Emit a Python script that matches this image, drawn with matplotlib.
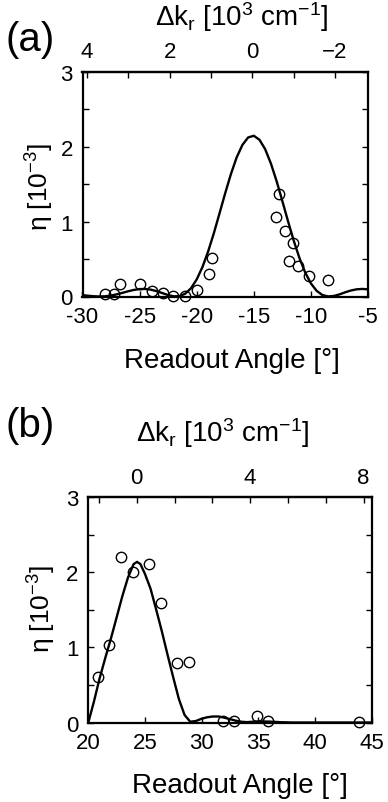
import numpy as np
import matplotlib
matplotlib.use("Agg")
import matplotlib.pyplot as plt
from matplotlib.ticker import MultipleLocator

plt.rcParams["font.family"] = ["Liberation Sans", "DejaVu Sans"]
plt.rcParams["mathtext.fontset"] = "custom"
plt.rcParams["mathtext.rm"] = "Liberation Sans"
plt.rcParams["mathtext.it"] = "Liberation Sans:italic"
plt.rcParams["mathtext.default"] = "regular"

# panel (a): measured points
a_meas_angle = [-28.05, -27.26, -26.74, -24.93, -23.91, -22.95, -22.07, -21.0, -19.98,
                -18.96, -18.67, -12.75, -13.04, -12.26, -11.53, -11.88, -11.09, -10.13, -8.47]
a_meas_eta = [0.03, 0.04, 0.17, 0.17, 0.07, 0.05, 0.005, 0.005, 0.09,
              0.30, 0.51, 1.37, 1.06, 0.87, 0.72, 0.47, 0.41, 0.28, 0.22]

# panel (a): calculated curve
a_curve_angle = [-30, -29.5, -29, -28.5, -28, -27.5, -27, -26.5, -26, -25.5,
                 -25, -24.5, -24, -23.5, -23, -22.5, -22, -21.5, -21, -20.5,
                 -20, -19.5, -19, -18.5, -18, -17.5, -17, -16.5, -16, -15.5,
                 -15, -14.5, -14, -13.5, -13, -12.5, -12, -11.5, -11, -10.5,
                 -10, -9.5, -9, -8.5, -8, -7.5, -7, -6.5, -6, -5.5, -5]
a_curve_eta = [0.018, 0.010, 0.003, 0.000, 0.003, 0.013, 0.029, 0.049, 0.070, 0.088,
               0.099, 0.101, 0.091, 0.071, 0.045, 0.019, 0.002, 0.005, 0.038, 0.110,
               0.228, 0.392, 0.601, 0.845, 1.112, 1.383, 1.638, 1.859, 2.025, 2.125,
               2.148, 2.094, 1.967, 1.776, 1.540, 1.275, 1.004, 0.744, 0.513, 0.321,
               0.175, 0.076, 0.020, 0.001, 0.007, 0.028, 0.056, 0.080, 0.096, 0.101, 0.096]

# panel (b): measured points
b_meas_angle = [22.88, 23.91, 25.38, 26.41, 21.87, 20.88, 27.87, 28.88,
                31.87, 32.82, 34.87, 35.85, 43.9]
b_meas_eta = [2.21, 2.01, 2.11, 1.59, 1.03, 0.61, 0.79, 0.81,
              0.02, 0.02, 0.08, 0.02, 0.01]

# panel (b): calculated curve
b_curve_angle = [20, 20.5, 21, 21.5, 22, 22.5, 23, 23.5, 24, 24.3, 24.6, 25, 25.5,
                 26, 26.5, 27, 27.5, 28, 28.5, 29, 29.5, 30, 30.5, 31, 31.5, 32,
                 32.5, 33, 33.5, 34, 35, 36, 37, 38, 40, 45]
b_curve_eta = [0.0, 0.28, 0.59, 0.86, 1.12, 1.40, 1.68, 1.93, 2.11, 2.14, 2.11, 1.98, 1.78,
               1.50, 1.21, 0.90, 0.60, 0.31, 0.10, 0.01, 0.02, 0.05, 0.07, 0.08, 0.08, 0.065,
               0.045, 0.025, 0.01, 0.005, 0.015, 0.012, 0.004, 0.0, 0.0, 0.0]

a_xticks = [-30, -25, -20, -15, -10, -5]
a_xticklabels = ["-30", "-25", "-20", "-15", "-10", "-5"]
a_top_ticks = [4, 2, 0, -2]
a_top_labels = ["4", "2", "0", "\u22122"]
b_xticks = [20, 25, 30, 35, 40, 45]
b_xticklabels = ["20", "25", "30", "35", "40", "45"]
b_top_ticks = [0, 4, 8]
b_top_labels = ["0", "4", "8"]
yticks = [0, 1, 2, 3]

W, H = 388, 803
fig = plt.figure(figsize=(W / 100, H / 100), dpi=100)


def px_axes(l, r, t, b):
    return fig.add_axes([l / W, 1 - b / H, (r - l) / W, (b - t) / H])


def style(ax):
    for s in ax.spines.values():
        s.set_linewidth(1.6)
    ax.tick_params(axis="both", which="both", direction="in", length=4, width=1.0,
                   labelsize=16, top=False, right=True)
    ax.tick_params(axis="x", pad=7)
    ax.tick_params(axis="y", pad=7)
    ax.set_ylim(0, 3)
    ax.set_yticks(yticks)
    ax.yaxis.set_minor_locator(MultipleLocator(0.5))


def draw(ax, ca, ce, ma, me):
    ax.plot(ca, ce, color="black", lw=1.7, zorder=2)
    ax.plot(ma, me, "o", ms=7.5, mfc="none", mec="black", mew=1.0, zorder=3,
            clip_on=False)


# panel (a)
ax1 = px_axes(82.5, 368, 73, 297.5)
draw(ax1, a_curve_angle, a_curve_eta, a_meas_angle, a_meas_eta)
ax1.set_xlim(-30, -5)
ax1.set_xticks(a_xticks, labels=a_xticklabels)
style(ax1)
top1 = ax1.secondary_xaxis("top", functions=(lambda t: -(t + 15.13) / 3.62,
                                             lambda k: -15.13 - 3.62 * k))
top1.set_xticks(a_top_ticks, labels=a_top_labels)
top1.xaxis.set_minor_locator(MultipleLocator(1))
top1.tick_params(which="both", direction="in", length=4, width=1.0, labelsize=16, pad=7)
top1.spines["top"].set_linewidth(1.6)

# panel (b)
ax2 = px_axes(88.3, 371.5, 498.3, 723.5)
draw(ax2, b_curve_angle, b_curve_eta, b_meas_angle, b_meas_eta)
ax2.set_xlim(20, 45)
ax2.set_xticks(b_xticks, labels=b_xticklabels)
style(ax2)
top2 = ax2.secondary_xaxis("top", functions=(lambda t: (t - 24.27) / 2.505,
                                             lambda k: 24.27 + 2.505 * k))
top2.set_xticks(b_top_ticks, labels=b_top_labels)
top2.xaxis.set_minor_locator(MultipleLocator(4 / 3))
top2.tick_params(which="both", direction="in", length=4, width=1.0, labelsize=16, pad=7)
top2.spines["top"].set_linewidth(1.6)


def ftext(x, y, s, **kw):
    fig.text(x / W, 1 - y / H, s, **kw)


top_label = "\u0394k$_r$ [10$^3$ cm$^{-1}$]"
y_label = "\u03b7 [10$^{-3}$]"
x_label = "Readout Angle [\u00b0]"

ftext(30, 40, "(a)", fontsize=29, ha="center", va="center")
ftext(30, 426, "(b)", fontsize=29, ha="center", va="center")
ftext(242, 17, top_label, fontsize=20, ha="center", va="center")
ftext(223, 433, top_label, fontsize=20, ha="center", va="center")
ftext(40, 187, y_label, fontsize=19, ha="center", va="center", rotation=90)
ftext(42, 609, y_label, fontsize=19, ha="center", va="center", rotation=90)
ftext(232, 367.5, x_label, fontsize=20, ha="center", va="baseline")
ftext(240, 793, x_label, fontsize=20, ha="center", va="baseline")

fig.savefig("out.png", dpi=100)
